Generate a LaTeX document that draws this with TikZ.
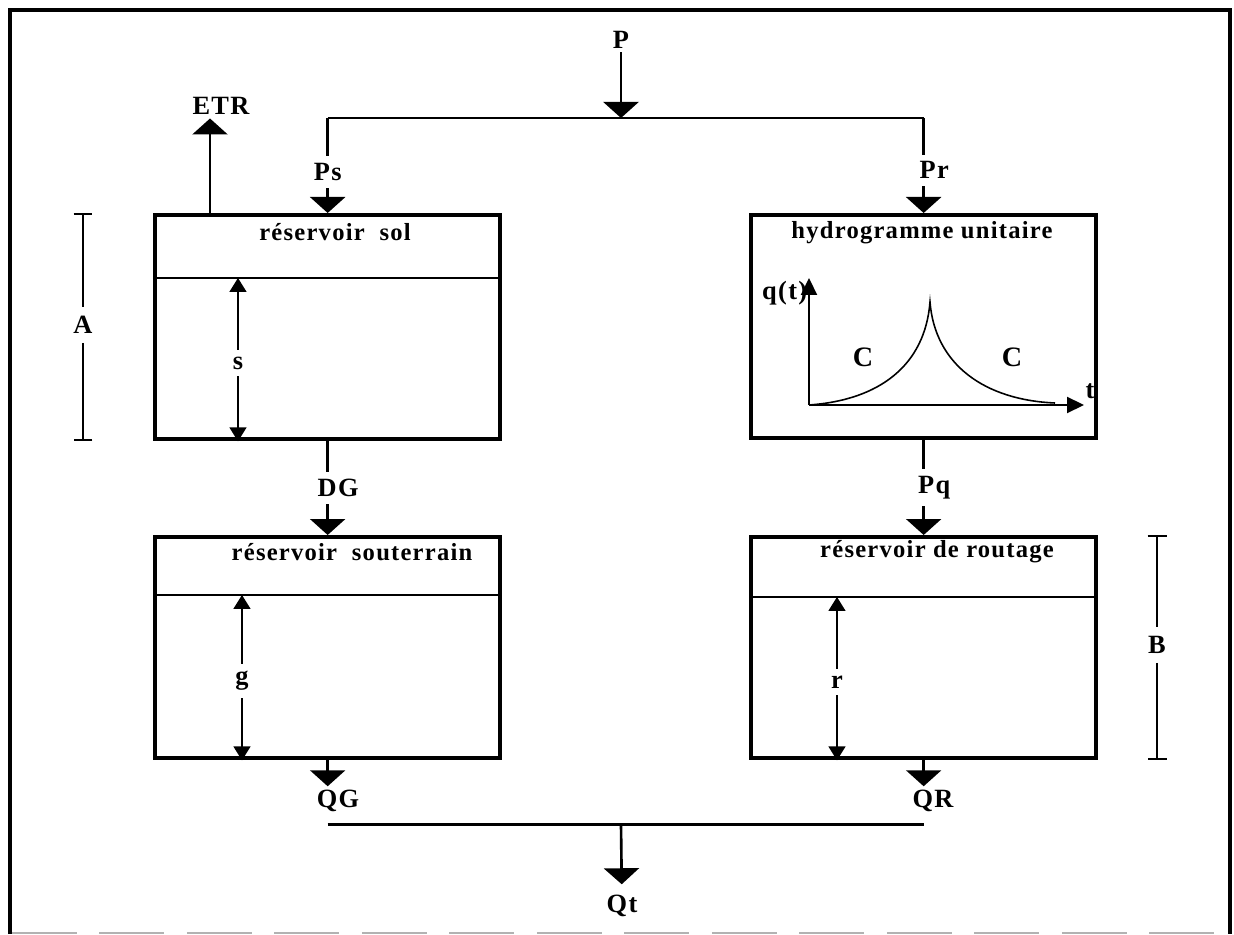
\documentclass[tikz,border=0pt]{standalone}
\usepackage{fontspec}
\setmainfont{Liberation Serif}[LetterSpace=5]
\usetikzlibrary{arrows.meta,positioning}

\tikzset{
  tank/.style={draw,line width=2.5pt,anchor=north west,minimum width=6.9cm,inner sep=0pt},
  lbl/.style={font=\fontsize{15}{17}\selectfont\bfseries,inner sep=2pt},
  title/.style={font=\fontsize{14}{16}\selectfont\bfseries,inner sep=1pt},
  clbl/.style={font=\fontsize{16}{18}\selectfont\bfseries,inner sep=1pt},
  gap/.style={fill=white,inner sep=4pt},
  shifted/.style={xshift=0.21cm}
}

\begin{document}
\begin{tikzpicture}[x=0.02cm,y=-0.02cm,
  wire/.style={line width=1.5pt},
  flow/.style={wire,-{Triangle[width=0.7cm,length=0.32cm]}},
  level/.style={line width=0.9pt,{Triangle[width=0.34cm,length=0.28cm]}-{Triangle[width=0.34cm,length=0.28cm]}},
  axis/.style={line width=1.2pt,-{Triangle[width=0.32cm,length=0.34cm]}},
  bracket/.style={line width=1.2pt}]
\useasboundingbox (0,0) rectangle (1234,935);

% frame
\draw[line width=2.3pt] (10,934) -- (10,10) -- (1230,10) -- (1230,934);
\draw[gray!60,line width=1pt,dash pattern=on 1.3cm off 0.45cm] (12,933) -- (1228,933);

% tanks
\node[tank,minimum height=4.48cm] (sol)   at (153,213) {};
\node[tank,minimum height=4.46cm] (hydro) at (749,213) {};
\node[tank,minimum height=4.42cm] (sout)  at (153,535) {};
\node[tank,minimum height=4.42cm] (rout)  at (749,535) {};

\node[title] (solT)   at (335,232) {réservoir~~sol};
\node[title] (hydroT) at (922,233) {hydrogramme unitaire};
\node[title] (soutT)  at (352,552) {réservoir~~souterrain};
\node[title] (routT)  at (937,552) {réservoir de routage};

% levels in the tanks
\foreach \t/\v/\dx/\dy in {sol/s/1.7/1.3, sout/g/1.78/1.2, rout/r/1.76/1.24}{
  \draw[line width=1pt] ([yshift=-\dy cm]\t.north west) -- ([yshift=-\dy cm]\t.north east);
  \draw[level] ([xshift=\dx cm,yshift=-\dy cm]\t.north west) -- node[lbl,gap,pos=.52]{\v} ([xshift=\dx cm]\t.south west);
}

% unit hydrograph
\coordinate (O)    at (809,405);
\coordinate (ytop) at (809,278);
\coordinate (xend) at (1084,405);
\coordinate (peak) at (930,302);
\coordinate (tail) at (1055,403);
\draw[axis] (O) -- (ytop);
\draw[axis] (O) -- (xend);
\node[lbl,anchor=east] (qt) at (811,293) {q(t)};
\node[lbl] (tt) at (1090,391) {t};
\draw[line width=0.9pt] (O) .. controls (880,400) and (925,365) .. (peak)
      .. controls (935,365) and (985,400) .. (tail);
\node[clbl] (C1) at (863,357) {C};
\node[clbl] (C2) at (1012,357) {C};

% rainfall split
\node[lbl] (P) at (621,40) {P};
\coordinate (splitP) at (621,118);
\coordinate (splitL) at (sol.north |- splitP);
\coordinate (splitR) at (hydro.north |- splitP);
\draw[wire] (splitL) -- (splitR);
\draw[flow] (P) -- (splitP);
\draw[flow] (splitL) -- node[lbl,gap,pos=.57]{Ps} (sol.north);
\draw[flow] (splitR) -- node[lbl,gap,pos=.55,shifted]{Pr} (hydro.north);

% evapotranspiration
\node[lbl] (ETR) at (221,106) {ETR};
\coordinate (evap) at (210,213);
\draw[flow] (evap) -- (evap |- ETR.south);

% transfers
\draw[flow] (sol.south) -- node[lbl,gap,shifted]{DG} (sout.north);
\draw[flow] (hydro.south) -- node[lbl,gap,shifted]{Pq} (rout.north);

% outflows
\node[lbl] (QG) at (338,801) {QG};
\node[lbl] (QR) at (933,801) {QR};
\draw[flow] (sout.south) -- (sout.south |- QG.north);
\draw[flow] (rout.south) -- (rout.south |- QR.north);
\path (sout.south) ++(0,64) coordinate (joinL);
\path (rout.south) ++(0,64) coordinate (joinR);
\path (joinL -| P) coordinate (joinM);
\draw[wire] (joinL) -- (joinR);
\node[lbl] (Qt) at (622,906) {Qt};
\draw[flow,shorten >=4pt] (joinM) -- (Qt);

% brackets
\node[lbl,inner sep=5pt] (A) at (83,325) {A};
\draw[bracket,{Bar[width=0.38cm]}-] (A |- sol.north) -- (A.north);
\draw[bracket,-{Bar[width=0.38cm]}] (A.south) -- (A |- sol.south);
\node[lbl,inner sep=5pt] (B) at (1157,645) {B};
\draw[bracket,{Bar[width=0.38cm]}-] (B |- rout.north) -- (B.north);
\draw[bracket,-{Bar[width=0.38cm]}] (B.south) -- (B |- rout.south);
\end{tikzpicture}
\end{document}
